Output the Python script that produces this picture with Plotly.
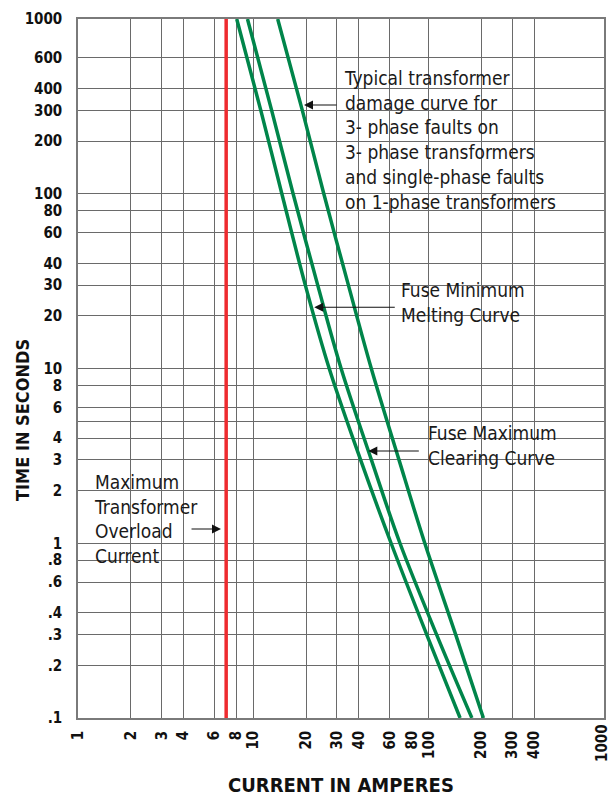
import plotly.graph_objects as go

# ---- data ----
time_s = [1000, 300, 100, 30, 10, 3, 1, 0.3, 0.1]
min_melting_a = [8.04, 11.03, 14.54, 19.79, 27.09, 40.91, 61.07, 97.46, 151.1]
max_clearing_a = [9.26, 12.72, 16.86, 23.29, 31.67, 47.14, 68.62, 111.0, 176.4]
damage_a = [13.77, 19.03, 25.23, 34.85, 47.08, 67.73, 95.06, 142.6, 205.2]
overload_a = [7, 7]
overload_t = [0.1, 1000]

x_tickvals = [1, 2, 3, 4, 6, 8, 10, 20, 30, 40, 60, 80, 100, 200, 300, 400]
x_ticktext = ["1", "2", "3", "4", "6", "8", "10", "20", "30", "40", "60", "80", "100", "200", "300", "400"]
x_last_label = "1000"   # drawn at the right edge of the axis
x_gridvals = [2, 3, 4, 6, 8, 10, 20, 30, 40, 60, 100, 200, 300, 400]
y_tickvals = [0.1, 0.2, 0.3, 0.4, 0.6, 0.8, 1, 2, 3, 4, 6, 8, 10, 20, 30, 40, 60, 80, 100, 200, 300, 400, 600, 1000]
y_ticktext = [".1", ".2", ".3", ".4", ".6", ".8", "1", "2", "3", "4", "6", "8", "10", "20", "30", "40", "60",
              "80", "100", "200", "300", "400", "600", "1000"]
y_gridvals = [0.2, 0.3, 0.4, 0.6, 0.8, 1, 2, 3, 4, 5, 6, 8, 10, 20, 30, 40, 60, 80, 100, 200, 300, 400, 600]

GREEN = "#00854A"
RED = "#EE2B2F"
GRID = "#6a6a6a"
BOLD = "DejaVu Sans Condensed, sans-serif"
REG = "DejaVu Sans Condensed, sans-serif"

fig = go.Figure()
for xs in (min_melting_a, max_clearing_a, damage_a):
    fig.add_trace(go.Scatter(x=xs, y=time_s, mode="lines",
                             line=dict(color=GREEN, width=3.5, shape="spline", smoothing=1.0),
                             hoverinfo="skip", showlegend=False))
fig.add_trace(go.Scatter(x=overload_a, y=overload_t, mode="lines",
                         line=dict(color=RED, width=3.5), hoverinfo="skip", showlegend=False))

tick_font = dict(family=BOLD, size=15, color="#111", weight="bold")
axis_common = dict(type="log", showgrid=False, zeroline=False, showline=True, mirror=True, automargin=False,
                   linecolor="#7a7a7a", linewidth=1.5, ticks="outside", tickcolor="rgba(0,0,0,0)",
                   tickfont=tick_font)

fig.update_xaxes(**axis_common, range=[0, 3], tickvals=x_tickvals, ticktext=x_ticktext,
                 tickangle=-90, ticklen=5,
                 minor=dict(tickvals=x_gridvals, showgrid=True, gridcolor=GRID, gridwidth=1.4, ticks=""))
fig.update_yaxes(**axis_common, range=[-1, 3], tickvals=y_tickvals, ticktext=y_ticktext,
                 ticklen=11,
                 minor=dict(tickvals=y_gridvals, showgrid=True, gridcolor=GRID, gridwidth=1.4, ticks=""))

fig.add_annotation(text=x_last_label, xref="paper", yref="paper", x=1, y=0, xanchor="center",
                   yanchor="top", xshift=-2, yshift=-5, textangle=-90, showarrow=False,
                   borderpad=0, font=tick_font)

# white boxes behind labels (above grid, below curves)
boxes = [(0.4848, 0.9601, 0.701, 0.9456), (0.6027, 0.9106, 0.5465, 0.6466),
         (0.6464, 0.9696, 0.3405, 0.4363), (0.0228, 0.2624, 0.2031, 0.3648)]
for x0, x1, y0, y1 in boxes:
    fig.add_shape(type="rect", xref="paper", yref="paper", x0=x0, x1=x1, y0=y0, y1=y1,
                  fillcolor="white", line=dict(width=0), layer="between")

texts = [
    ("Typical transformer<br>damage curve for<br>3- phase faults on<br>3- phase transformers<br>"
     "and single-phase faults<br>on 1-phase transformers", 0.5019, 0.8275),
    ("Fuse Minimum<br>Melting Curve", 0.6097, 0.594),
    ("Fuse Maximum<br>Clearing Curve", 0.6622, 0.3893),
    ("Maximum<br>Transformer<br>Overload<br>Current", 0.0266, 0.2848),
]
for t, x, y in texts:
    fig.add_annotation(text=t, xref="paper", yref="paper", x=x, y=y, xanchor="left", yanchor="middle",
                       align="left", showarrow=False, font=dict(family=REG, size=19, color="#1a1a1a"))

arrows = [(0.4297, 0.877, 34), (0.4492, 0.5876, 82), (0.5519, 0.382, 52), (0.2719, 0.2704, -31)]
for x, y, ax in arrows:
    fig.add_annotation(text="", xref="paper", yref="paper", x=x, y=y, ax=ax, ay=0,
                       showarrow=True, arrowhead=2, arrowsize=1.5, arrowwidth=1.2, arrowcolor="#111",
                       standoff=0)

fig.add_annotation(text="CURRENT IN AMPERES", xref="paper", yref="paper", x=0.5, y=-0.0959,
                   xanchor="center", yanchor="middle", showarrow=False,
                   font=dict(family=BOLD, size=20, color="#111", weight="bold"))
fig.add_annotation(text="TIME IN SECONDS", xref="paper", yref="paper", x=-0.1065, y=0.4263,
                   xanchor="center", yanchor="middle", textangle=-90, showarrow=False,
                   font=dict(family=BOLD, size=18, color="#111", weight="bold"))

fig.update_layout(width=610, height=796, margin=dict(l=78, r=6, t=19, b=78),
                  paper_bgcolor="white", plot_bgcolor="white")
# remove the default page margin so the figure fills the 610x796 window exactly
fig.write_html("out.html", config={"displayModeBar": False},
               post_script="document.body.style.margin='0';document.body.style.overflow='hidden';")
